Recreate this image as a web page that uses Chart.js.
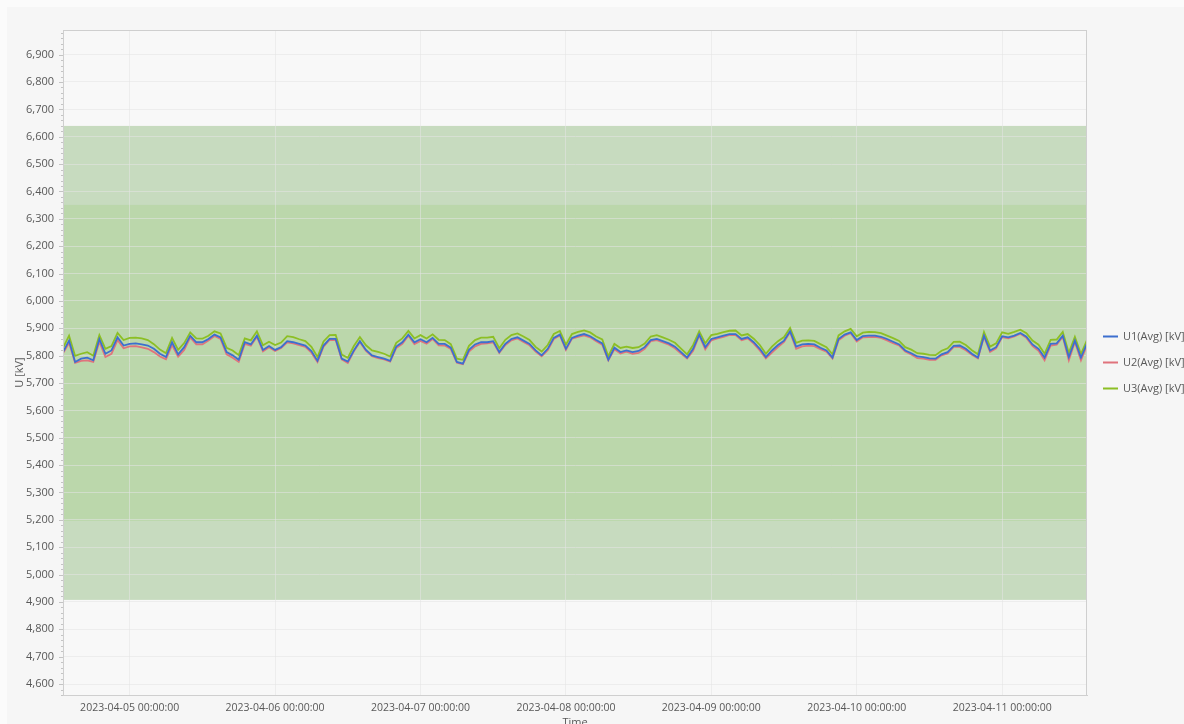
<!DOCTYPE html>
<html>
<head>
<meta charset="utf-8">
<script src="https://cdn.jsdelivr.net/npm/chart.js@4.4.0/dist/chart.umd.min.js"></script>
<style>
  html, body { margin: 0; padding: 0; background: #fbfbfb; }
  canvas { display: block; }
</style>
</head>
<body>
<canvas id="chart" width="1184" height="724"></canvas>
<script>
// hourly averages, first sample at startTime
const startTime = '2023-04-04T13:00:00Z';
const stepHours = 1;
const dayTicks = ['2023-04-05', '2023-04-06', '2023-04-07', '2023-04-08', '2023-04-09', '2023-04-10', '2023-04-11'];
const seriesNames = ['U1(Avg) [kV]', 'U2(Avg) [kV]', 'U3(Avg) [kV]'];
const seriesColors = ['#3c6fcf', '#e0737c', '#8cbf24'];

const u1 = [
  5813, 5855, 5777, 5789, 5793, 5783, 5861, 5807, 5819, 5867,
  5837, 5843, 5845, 5841, 5837, 5825, 5807, 5795, 5849, 5805,
  5831, 5873, 5849, 5849, 5861, 5877, 5867, 5813, 5801, 5785,
  5849, 5841, 5873, 5821, 5835, 5821, 5831, 5853, 5849, 5843,
  5837, 5817, 5781, 5837, 5861, 5861, 5789, 5778, 5819, 5853,
  5821, 5801, 5795, 5789, 5781, 5833, 5849, 5877, 5849, 5860,
  5849, 5865, 5843, 5843, 5829, 5777, 5771, 5821, 5841, 5849,
  5849, 5853, 5813, 5843, 5861, 5867, 5855, 5843, 5819, 5801,
  5825, 5865, 5877, 5825, 5865, 5873, 5879, 5871, 5857, 5845,
  5785, 5829, 5813, 5819, 5813, 5817, 5831, 5857, 5861, 5853,
  5845, 5833, 5813, 5793, 5825, 5877, 5831, 5861, 5867, 5873,
  5879, 5879, 5861, 5867, 5849, 5825, 5795, 5819, 5839, 5855,
  5889, 5833, 5841, 5843, 5841, 5829, 5819, 5793, 5861, 5877,
  5885, 5857, 5871, 5873, 5873, 5869, 5861, 5851, 5841, 5819,
  5809, 5797, 5795, 5790, 5789, 5805, 5813, 5836, 5837, 5825,
  5807, 5793, 5873, 5819, 5831, 5871, 5867, 5873, 5883, 5869,
  5841, 5825, 5793, 5843, 5845, 5873, 5795, 5855, 5793, 5845
];
const u2 = [
  5809, 5847, 5774, 5781, 5783, 5777, 5851, 5795, 5807, 5857,
  5827, 5834, 5835, 5830, 5825, 5813, 5797, 5787, 5839, 5796,
  5821, 5867, 5841, 5841, 5855, 5872, 5861, 5805, 5792, 5777,
  5843, 5836, 5869, 5816, 5831, 5817, 5828, 5849, 5845, 5838,
  5832, 5811, 5777, 5833, 5858, 5857, 5786, 5773, 5816, 5850,
  5817, 5798, 5791, 5786, 5778, 5828, 5843, 5873, 5842, 5854,
  5844, 5861, 5838, 5837, 5824, 5774, 5769, 5815, 5834, 5843,
  5845, 5849, 5810, 5839, 5856, 5863, 5850, 5838, 5815, 5798,
  5820, 5861, 5874, 5821, 5862, 5869, 5874, 5867, 5853, 5840,
  5783, 5823, 5808, 5815, 5807, 5810, 5825, 5853, 5857, 5848,
  5840, 5827, 5808, 5790, 5818, 5874, 5823, 5856, 5863, 5869,
  5876, 5875, 5856, 5863, 5844, 5819, 5790, 5811, 5831, 5850,
  5886, 5825, 5834, 5837, 5835, 5824, 5815, 5790, 5856, 5873,
  5882, 5852, 5867, 5868, 5869, 5865, 5856, 5846, 5837, 5815,
  5804, 5791, 5789, 5785, 5785, 5801, 5808, 5832, 5832, 5820,
  5803, 5790, 5869, 5814, 5827, 5868, 5863, 5870, 5880, 5865,
  5836, 5818, 5783, 5837, 5840, 5869, 5783, 5850, 5783, 5839
];
const u3 = [
  5828, 5873, 5799, 5807, 5813, 5800, 5875, 5825, 5835, 5883,
  5857, 5865, 5866, 5863, 5857, 5842, 5822, 5809, 5865, 5821,
  5846, 5885, 5863, 5862, 5873, 5889, 5881, 5829, 5819, 5802,
  5863, 5856, 5889, 5838, 5851, 5839, 5848, 5871, 5868, 5860,
  5853, 5832, 5795, 5852, 5875, 5876, 5804, 5792, 5835, 5868,
  5838, 5819, 5814, 5807, 5797, 5847, 5863, 5890, 5863, 5875,
  5863, 5878, 5858, 5857, 5842, 5789, 5785, 5836, 5857, 5866,
  5866, 5869, 5827, 5858, 5875, 5881, 5870, 5857, 5832, 5815,
  5839, 5879, 5890, 5840, 5879, 5887, 5892, 5885, 5870, 5859,
  5798, 5843, 5828, 5833, 5828, 5831, 5844, 5870, 5875, 5867,
  5858, 5847, 5826, 5805, 5839, 5889, 5845, 5875, 5880, 5886,
  5891, 5892, 5874, 5879, 5862, 5839, 5807, 5833, 5853, 5868,
  5901, 5847, 5855, 5856, 5854, 5842, 5831, 5805, 5874, 5889,
  5898, 5871, 5884, 5887, 5886, 5882, 5873, 5864, 5854, 5831,
  5822, 5809, 5807, 5803, 5802, 5818, 5827, 5850, 5851, 5839,
  5820, 5805, 5886, 5833, 5845, 5885, 5880, 5887, 5895, 5882,
  5855, 5840, 5807, 5858, 5859, 5887, 5810, 5869, 5806, 5857
];

// tolerance bands (+-10% / +-15% around 10 kV / sqrt(3))
const outerBand = [4907.5, 6639.5];
const innerBand = [5196.2, 6350.9];
const yMin = 4560;
const yMax = 6990;

const t0 = Date.parse(startTime);
const HOUR = 3600000;
const toPoints = arr => arr.map((v, i) => ({ x: t0 + i * stepHours * HOUR, y: v }));
const pad2 = n => String(n).padStart(2, '0');
const fmtTime = ms => {
    const d = new Date(ms);
    return d.getUTCFullYear() + '-' + pad2(d.getUTCMonth() + 1) + '-' + pad2(d.getUTCDate()) + ' ' +
        pad2(d.getUTCHours()) + ':' + pad2(d.getUTCMinutes()) + ':' + pad2(d.getUTCSeconds());
};

const FONT = '"Open Sans", "Noto Sans", sans-serif';
const TEXT = '#585858';

const backdrop = {
    id: 'backdrop',
    beforeDraw(chart) {
        const { ctx, chartArea: a, scales: { y } } = chart;
        ctx.save();
        ctx.fillStyle = '#f6f6f6';
        ctx.fillRect(7, 7, chart.width - 7, chart.height - 7);
        ctx.fillStyle = '#f8f8f8';
        ctx.fillRect(a.left, a.top, a.right - a.left, a.bottom - a.top);
        const band = (lo, hi, color) => {
            const top = y.getPixelForValue(hi), bot = y.getPixelForValue(lo);
            ctx.fillStyle = color;
            ctx.fillRect(a.left, top, a.right - a.left, bot - top);
        };
        band(outerBand[0], outerBand[1], '#c7dbbf');
        band(innerBand[0], innerBand[1], '#bbd7ab');
        ctx.restore();
    },
    afterDraw(chart) {
        const { ctx, chartArea: a, scales: { y } } = chart;
        ctx.save();
        // frame
        ctx.strokeStyle = '#cfcfcf';
        ctx.lineWidth = 1;
        ctx.strokeRect(a.left + 0.5, a.top + 0.5, a.right - a.left - 1, a.bottom - a.top);
        // minor ticks on the value axis
        ctx.strokeStyle = '#c4c4c4';
        ctx.beginPath();
        for (let v = Math.ceil(yMin / 20) * 20; v <= yMax; v += 20) {
            const py = Math.round(y.getPixelForValue(v)) + 0.5;
            const len = v % 100 === 0 ? 4 : 2;
            ctx.moveTo(a.left - len, py);
            ctx.lineTo(a.left, py);
        }
        ctx.stroke();
        // axis titles
        ctx.fillStyle = TEXT;
        ctx.font = '11px ' + FONT;
        ctx.textAlign = 'center';
        ctx.textBaseline = 'top';
        ctx.fillText('Time', (a.left + a.right) / 2, 717);
        ctx.translate(20, (a.top + a.bottom) / 2 + 10);
        ctx.rotate(-Math.PI / 2);
        ctx.textBaseline = 'middle';
        ctx.fillText('U [kV]', 0, 0);
        ctx.setTransform(1, 0, 0, 1, 0, 0);
        // legend
        const mid = (a.top + a.bottom) / 2;
        ctx.textAlign = 'left';
        ctx.textBaseline = 'middle';
        seriesNames.forEach((name, i) => {
            const ly = mid + (i - 1) * 26;
            ctx.strokeStyle = seriesColors[i];
            ctx.lineWidth = 2;
            ctx.beginPath();
            ctx.moveTo(1103, ly);
            ctx.lineTo(1118, ly);
            ctx.stroke();
            ctx.fillStyle = TEXT;
            ctx.fillText(name, 1123, ly);
        });
        ctx.restore();
    }
};

const makeSet = (i, data) => ({
    label: seriesNames[i],
    data: toPoints(data),
    borderColor: seriesColors[i],
    backgroundColor: seriesColors[i],
    borderWidth: 1.8,
    pointRadius: 0,
    tension: 0,
    fill: false
});

new Chart(document.getElementById('chart'), {
    type: 'line',
    data: { datasets: [makeSet(0, u1), makeSet(1, u2), makeSet(2, u3)] },
    options: {
        responsive: false,
        animation: false,
        devicePixelRatio: 1,
        parsing: false,
        layout: { padding: { left: 0, top: 30, right: 97, bottom: 0 } },
        plugins: { legend: { display: false }, tooltip: { enabled: false } },
        scales: {
            x: {
                type: 'linear',
                min: t0,
                max: t0 + (u1.length - 1) * stepHours * HOUR,
                afterBuildTicks: s => { s.ticks = dayTicks.map(d => ({ value: Date.parse(d + 'T00:00:00Z') })); },
                afterFit: s => { s.height = 29; },
                grid: { color: 'rgba(228,228,228,0.55)', drawTicks: false },
                border: { color: '#cfcfcf' },
                ticks: {
                    padding: 7,
                    maxRotation: 0,
                    autoSkip: false,
                    color: TEXT,
                    font: { family: FONT, size: 10.5 },
                    callback: v => fmtTime(v)
                }
            },
            y: {
                min: yMin,
                max: yMax,
                afterFit: s => { s.width = 63; },
                grid: { color: 'rgba(228,228,228,0.55)', drawTicks: false },
                border: { color: '#cfcfcf' },
                ticks: {
                    stepSize: 100,
                    includeBounds: false,
                    padding: 9,
                    color: TEXT,
                    font: { family: FONT, size: 11 },
                    callback: v => v.toLocaleString('en-US')
                }
            }
        }
    },
    plugins: [backdrop]
});
</script>
</body>
</html>
